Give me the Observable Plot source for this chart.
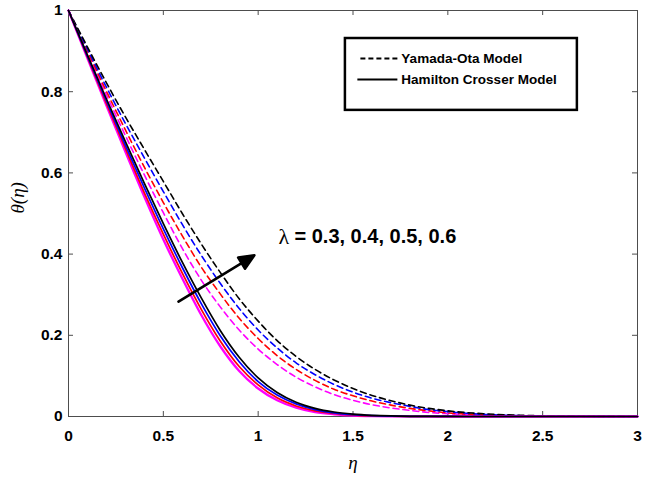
<!DOCTYPE html>
<html><head><meta charset="utf-8">
<script src="https://cdn.jsdelivr.net/npm/d3@7"></script>
<script src="https://cdn.jsdelivr.net/npm/@observablehq/plot@0.6"></script>
<style>body{margin:0;background:#fff}</style>
</head><body><div id="chart"></div>
<script>
// η grid
const eta = [0,0.1,0.2,0.3,0.4,0.5,0.6,0.7,0.8,0.9,1.0,1.1,1.2,1.3,1.4,1.5,1.6,1.7,1.8,1.9,2.0,2.1,2.2,2.4,2.6,2.8,3.0];

// Yamada-Ota model (dashed), λ = 0.3 (magenta), 0.4 (red), 0.5 (blue), 0.6 (black)
const yoMagenta = [1,0.895,0.792,0.692,0.595,0.502,0.414,0.336,0.270,0.213,0.166,0.128,0.097,0.073,0.054,0.040,0.029,0.021,0.015,0.010,0.007,0.0047,0.003,0.0012,0.0005,0.0002,0];
const yoRed     = [1,0.900,0.801,0.706,0.614,0.527,0.445,0.368,0.302,0.242,0.192,0.150,0.116,0.089,0.067,0.051,0.038,0.028,0.020,0.014,0.009,0.006,0.004,0.0016,0.0007,0.0003,0];
const yoBlue    = [1,0.905,0.811,0.722,0.637,0.554,0.473,0.397,0.328,0.266,0.213,0.169,0.132,0.103,0.079,0.060,0.045,0.034,0.025,0.017,0.012,0.008,0.005,0.002,0.0008,0.0003,0];
const yoBlack   = [1,0.910,0.822,0.738,0.658,0.579,0.500,0.425,0.355,0.290,0.235,0.187,0.148,0.116,0.090,0.069,0.052,0.039,0.028,0.020,0.014,0.0095,0.0065,0.0027,0.0011,0.0004,0.0001];

// Hamilton Crosser model (solid)
const hcMagenta = [1,0.882,0.766,0.652,0.541,0.436,0.340,0.250,0.173,0.112,0.069,0.040,0.022,0.011,0.0055,0.0025,0.0011,0.0005,0.0002,0.0001,0,0,0,0,0,0,0];
const hcRed     = [1,0.885,0.771,0.660,0.551,0.449,0.353,0.264,0.186,0.123,0.078,0.046,0.026,0.014,0.0075,0.0035,0.0016,0.0008,0.0003,0.0001,0,0,0,0,0,0,0];
const hcBlue    = [1,0.887,0.777,0.668,0.563,0.462,0.367,0.278,0.199,0.135,0.086,0.053,0.031,0.017,0.009,0.0045,0.0022,0.001,0.0004,0.0002,0.0001,0,0,0,0,0,0];
const hcBlack   = [1,0.890,0.782,0.677,0.574,0.475,0.380,0.292,0.212,0.146,0.095,0.059,0.035,0.020,0.011,0.006,0.003,0.0013,0.0005,0.0002,0.0001,0,0,0,0,0,0];

const xTicks = [0,0.5,1,1.5,2,2.5,3];
const yTicks = [0,0.2,0.4,0.6,0.8,1];
const legendLabels = ["Yamada-Ota Model","Hamilton Crosser Model"];
const annotationText = "= 0.3, 0.4, 0.5, 0.6";

// annotation positions (data units)
const arrowPos = [{x1:0.58, y1:0.283, x2:0.98, y2:0.397}];
const annotPos = [{x:1.107, y:0.443}];
const legendBox = [{x1:1.46, x2:2.683, y1:0.754, y2:0.931}];
const legendRows = [
  {x1:1.539, x2:1.734, y:0.882, tx:1.755, label:legendLabels[0]},
  {x1:1.523, x2:1.734, y:0.830, tx:1.755, label:legendLabels[1]}
];

const series = [
  {model:"YO", color:"#ff00ff", v:yoMagenta},
  {model:"YO", color:"#ff0000", v:yoRed},
  {model:"YO", color:"#0000ff", v:yoBlue},
  {model:"YO", color:"#000000", v:yoBlack},
  {model:"HC", color:"#ff00ff", v:hcMagenta},
  {model:"HC", color:"#ff0000", v:hcRed},
  {model:"HC", color:"#0000ff", v:hcBlue},
  {model:"HC", color:"#000000", v:hcBlack}
];
const rows = series.flatMap((s, k) => eta.map((e, i) => ({eta:e, theta:s.v[i], model:s.model, key:k, color:s.color})));

const W = 645, H = 478;
const mL = 68, mR = 8, mT = 10, mB = 62;
const pw = W - mL - mR, ph = H - mT - mB;
const axisColor = "#4d4d4d";

// arrow geometry in pixels derived from the data positions
const a = arrowPos[0];
const adx = (a.x2 - a.x1) / 3 * pw, ady = (a.y2 - a.y1) * ph;
const arrowLen = Math.hypot(adx, ady);
const arrowRot = Math.atan2(adx, ady) * 180 / Math.PI;
const filledArrow = {
  draw(context, l) {
    const h = 15, w = 6.5;
    context.moveTo(0, 0);
    context.lineTo(0, -(l - h + 2));
    context.moveTo(-w, -(l - h));
    context.lineTo(0, -l);
    context.lineTo(w, -(l - h));
    context.closePath();
  }
};

const chart = Plot.plot({
  width: W, height: H,
  marginLeft: mL, marginRight: mR, marginTop: mT, marginBottom: mB,
  style: {fontFamily: "'Liberation Sans', Arial, sans-serif", fontSize: "15.5px", fontWeight: "bold", background: "#fff", color: "#000"},
  x: {domain: [0, 3]},
  y: {domain: [0, 1]},
  color: {type: "identity"},
  marks: [
    Plot.frame({stroke: axisColor, strokeWidth: 1}),
    Plot.ruleX(xTicks, {x: d => d, insetTop: ph - 5, stroke: axisColor}),
    Plot.ruleX(xTicks, {x: d => d, insetBottom: ph - 5, stroke: axisColor}),
    Plot.ruleY(yTicks, {y: d => d, insetRight: pw - 5, stroke: axisColor}),
    Plot.ruleY(yTicks, {y: d => d, insetLeft: pw - 5, stroke: axisColor}),
    Plot.axisX({ticks: xTicks, tickSize: 0, tickPadding: 13, tickFormat: d => String(d), label: null}),
    Plot.axisY({ticks: yTicks, tickSize: 0, tickPadding: 6, tickFormat: d => String(d), label: null}),
    Plot.line(rows.filter(d => d.model === "YO"), {x: "eta", y: "theta", z: "key", stroke: "color", strokeWidth: 1.6, strokeDasharray: "6,4", curve: "monotone-x"}),
    Plot.line(rows.filter(d => d.model === "HC"), {x: "eta", y: "theta", z: "key", stroke: "color", strokeWidth: d => d.color === "#ff00ff" ? 2.3 : 1.7, curve: "monotone-x"}),
    Plot.vector(arrowPos, {x: "x1", y: "y1", length: arrowLen, rotate: arrowRot, anchor: "start", shape: filledArrow, stroke: "#000", fill: "#000", strokeWidth: 2.6}),
    Plot.text(annotPos, {x: "x", y: "y", text: () => "λ", textAnchor: "start", fontFamily: "'Liberation Serif', serif", fontWeight: "normal", fontSize: 22}),
    Plot.text(annotPos, {x: "x", y: "y", text: () => annotationText, textAnchor: "start", dx: 16, fontSize: 20}),
    Plot.rect(legendBox, {x1: "x1", x2: "x2", y1: "y1", y2: "y2", fill: "#fff", stroke: "#000", strokeWidth: 2.5}),
    Plot.link(legendRows.slice(0,1), {x1: "x1", x2: "x2", y1: "y", y2: "y", stroke: "#000", strokeWidth: 2, strokeDasharray: "5,3"}),
    Plot.link(legendRows.slice(1), {x1: "x1", x2: "x2", y1: "y", y2: "y", stroke: "#000", strokeWidth: 2}),
    Plot.text(legendRows, {x: "tx", y: "y", text: "label", textAnchor: "start", fontSize: 13.5}),
    Plot.text(["θ(η)"], {frameAnchor: "left", dx: -51, rotate: -90, fontFamily: "'Liberation Serif', serif", fontStyle: "italic", fontWeight: "normal", fontSize: 19}),
    Plot.text(["η"], {frameAnchor: "bottom", dy: 52, fontFamily: "'Liberation Serif', serif", fontStyle: "italic", fontWeight: "normal", fontSize: 19})
  ]
});
document.getElementById("chart").appendChild(chart);
</script>
</body></html>
